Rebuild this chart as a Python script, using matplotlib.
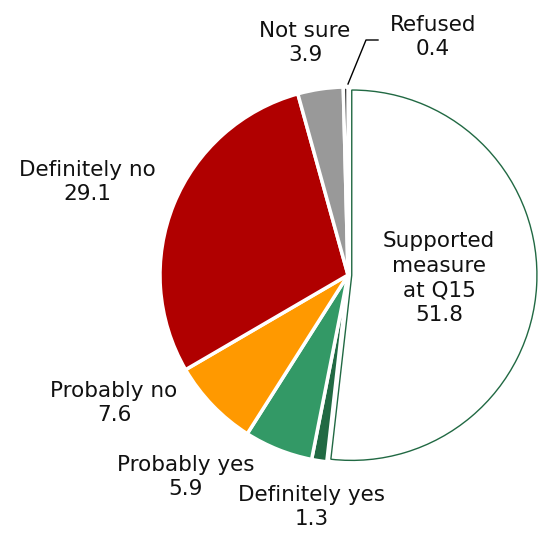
import matplotlib.pyplot as plt
from matplotlib.lines import Line2D

# data
names = ['Supported\nmeasure\nat Q15', 'Definitely yes', 'Probably yes',
         'Probably no', 'Definitely no', 'Not sure', 'Refused']
values = [51.8, 1.3, 5.9, 7.6, 29.1, 3.9, 0.4]
colors = ['white', '#216943', '#339966', '#FF9900', '#B00000', '#999999', '#222222']
explode = [0.02, 0, 0, 0, 0, 0, 0]

W = H = 538
fig = plt.figure(figsize=(5.38, 5.38), dpi=100)
ax = fig.add_axes([0, 0, 1, 1])

wedges, _ = ax.pie(values, colors=colors, startangle=90, counterclock=False,
                   explode=explode, radius=1.0,
                   wedgeprops=dict(edgecolor='white', linewidth=2.5))
wedges[0].set_edgecolor('#216943')
wedges[0].set_linewidth(1.0)
wedges[0].set_radius(0.985)

# pie resets the limits, so set them afterwards
r_px = 188.0
cx, cy = 348, 275
ax.set_xlim(-cx / r_px, (W - cx) / r_px)
ax.set_ylim(-(H - cy) / r_px, cy / r_px)
ax.set_aspect('equal')
ax.axis('off')

# label positions (pixels from top-left)
pos = [(439, 278), (312, 507), (186, 477), (114, 403), (87, 182), (305, 43), (433, 37)]
for (px, py), name, v in zip(pos, names, values):
    fig.text(px / W, 1 - py / H, f'{name}\n{v}', ha='center', va='center',
             fontsize=15.5, color='#111111', linespacing=1.3)

# leader line for Refused
xs = [348 / W, 366 / W, 378 / W]
ys = [1 - 84 / H, 1 - 40 / H, 1 - 40 / H]
fig.add_artist(Line2D(xs, ys, color='black', linewidth=1))

fig.savefig('out.png', dpi=100)
